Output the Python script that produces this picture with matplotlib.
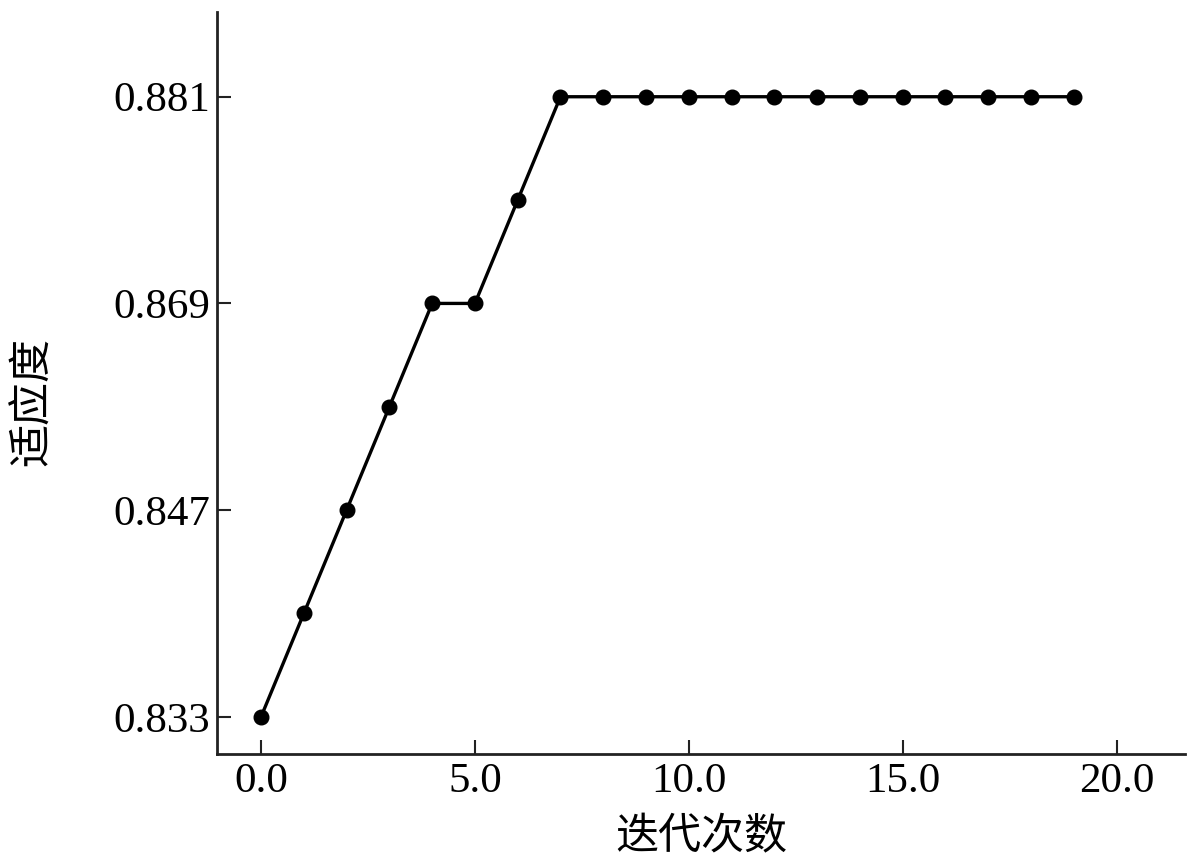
import numpy as np
import matplotlib
matplotlib.use("Agg")
import matplotlib.pyplot as plt
from matplotlib.ticker import FixedLocator, FormatStrFormatter

# ---- data ----
iterations = list(range(20))
fitness = [0.833, 0.840, 0.847, 0.858, 0.869, 0.869, 0.875, 0.881,
           0.881, 0.881, 0.881, 0.881, 0.881, 0.881, 0.881, 0.881,
           0.881, 0.881, 0.881, 0.881]
y_ticks = [0.833, 0.847, 0.869, 0.881]
x_ticks = [0.0, 5.0, 10.0, 15.0, 20.0]
x_label = "迭代次数"
y_label = "适应度"

# piecewise-linear axis: the tick values are equally spaced on the page
_vals = np.array(y_ticks)
_idx = np.arange(len(y_ticks), dtype=float)


def _fwd(v):
    v = np.asarray(v, dtype=float)
    out = np.interp(v, _vals, _idx)
    lo = v < _vals[0]
    hi = v > _vals[-1]
    out = np.where(lo, (v - _vals[0]) / (_vals[1] - _vals[0]), out)
    out = np.where(hi, _idx[-1] + (v - _vals[-1]) / (_vals[-1] - _vals[-2]), out)
    return out


def _inv(t):
    t = np.asarray(t, dtype=float)
    out = np.interp(t, _idx, _vals)
    lo = t < 0
    hi = t > _idx[-1]
    out = np.where(lo, _vals[0] + t * (_vals[1] - _vals[0]), out)
    out = np.where(hi, _vals[-1] + (t - _idx[-1]) * (_vals[-1] - _vals[-2]), out)
    return out


fig = plt.figure(figsize=(12, 8.64), dpi=100)
ax = fig.add_axes([217 / 1200, 1 - 754 / 864, (1185 - 217) / 1200, (754 - 12) / 864])

ax.plot(iterations, fitness, color="black", lw=2.4, marker="o",
        markersize=10.5, markerfacecolor="black", markeredgecolor="black")

ax.set_yscale("function", functions=(_fwd, _inv))
ax.set_ylim(_inv(-0.18), _inv(3.41))
ax.set_xlim(-1.03, 21.6)

ax.yaxis.set_major_locator(FixedLocator(y_ticks))
ax.yaxis.set_minor_locator(FixedLocator([]))
ax.yaxis.set_major_formatter(FormatStrFormatter("%.3f"))
ax.xaxis.set_major_locator(FixedLocator(x_ticks))
ax.xaxis.set_major_formatter(FormatStrFormatter("%.1f"))

for s in ("top", "right"):
    ax.spines[s].set_visible(False)
for s in ("left", "bottom"):
    ax.spines[s].set_linewidth(2.0)
    ax.spines[s].set_color("#222222")

ax.tick_params(axis="both", which="major", direction="in", length=10,
               width=1.5, color="#222222", labelsize=31)
ax.tick_params(axis="x", pad=6)
ax.tick_params(axis="y", pad=5)
for lab in ax.get_xticklabels() + ax.get_yticklabels():
    lab.set_fontfamily(["Liberation Serif", "DejaVu Serif"])

ax.set_xlabel(x_label, fontsize=31, family=["Noto Sans CJK SC", "DejaVu Sans"])
ax.set_ylabel(y_label, fontsize=31, family=["Noto Sans CJK SC", "DejaVu Sans"])
ax.xaxis.set_label_coords(0.5, -0.083)
ax.yaxis.set_label_coords(-0.167, 0.475)

fig.savefig("out.png", dpi=100)
